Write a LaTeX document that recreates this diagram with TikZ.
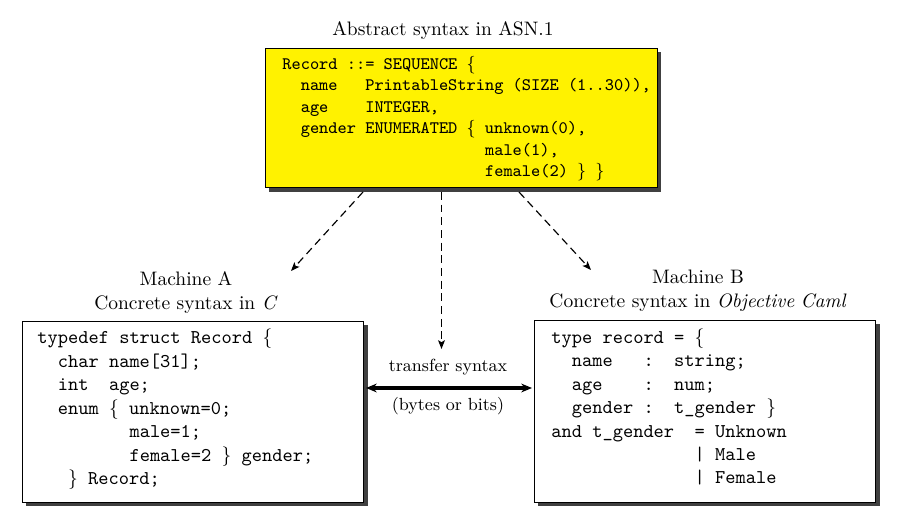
\documentclass[tikz,border=0pt]{standalone}
\usetikzlibrary{arrows.meta,shadows}
\newcommand{\ind}[1]{\hspace*{#1\dimexpr0.525em\relax}}
\newcommand{\ttsp}{\spaceskip=0.525em\relax\xspaceskip=0.525em\relax}
\begin{document}
\begin{tikzpicture}[x=0.5128pt, y=-0.5128pt,
  box/.style={draw, line width=0.6pt, rectangle, inner sep=0pt, anchor=north west,
    drop shadow={shadow xshift=2pt, shadow yshift=-2pt, fill=black!75, opacity=1}},
  code/.style={font=\ttfamily, text width=220pt, align=flush left, inner sep=0pt,
    anchor=base west, execute at begin node=\ttsp},
  lbl/.style={text width=220pt, align=center, inner sep=0pt, anchor=base},
  dasharrow/.style={dash pattern=on 4pt off 2.5pt, line width=0.6pt,
    -{Stealth[length=4.5pt,width=3.5pt,inset=1pt]}},
  dbl/.style={line width=1.6pt,
    {Stealth[length=5.5pt,width=4.5pt]}-{Stealth[length=5.5pt,width=4.5pt]}}]
\useasboundingbox (0,0) rectangle (897,520);

% boxes
\node[box, fill=yellow, minimum width=201pt, minimum height=71.3pt] (asn) at (265,48) {};
\node[box, fill=white, minimum width=174.9pt, minimum height=92.8pt] (ma) at (22,321) {};
\node[box, fill=white, minimum width=174.9pt, minimum height=93.3pt] (mb) at (534,320) {};

% code texts
\node[code, font=\small\ttfamily] (asntext) at (282,69.5) {Record ::= SEQUENCE $\{$\\
\ind{2}name~~~PrintableString (SIZE (1..30)),\\
\ind{2}age~~~~INTEGER,\\
\ind{2}gender ENUMERATED $\{$ unknown(0),\\
\ind{22}male(1),\\
\ind{22}female(2) $\}$ $\}$};

\node[code] (matext) at (37,344) {typedef struct Record $\{$\\
\ind{2}char name[31];\\
\ind{2}int~~age;\\
\ind{2}enum $\{$ unknown=0;\\
\ind{9}male=1;\\
\ind{9}female=2 $\}$ gender;\\
\ind{3}$\}$ Record;};

\node[code] (mbtext) at (551,343.5) {type record = $\{$\\
\ind{2}name~~~:~~string;\\
\ind{2}age~~~~:~~num;\\
\ind{2}gender :~~t\_gender $\}$\\
and t\_gender~~= Unknown\\
\ind{14}| Male\\
\ind{14}| Female};

% labels
\node[lbl] (title) at (443,36) {Abstract syntax in ASN.1};
\node[lbl] (lbla) at (186,286) {Machine A\\Concrete syntax in \textit{C}};
\node[lbl] (lblb) at (698,284) {Machine B\\Concrete syntax in \textit{Objective Caml}};
\node[lbl, font=\small] (ts) at (448,372) {transfer syntax};
\node[lbl, font=\small] (bb) at (448,411) {(bytes or bits)};

% connectors
\coordinate (s1) at (363,192);
\coordinate (e1) at (291,271);
\coordinate (s2) at (441.5,192);
\coordinate (e2) at (441.5,349);
\coordinate (s3) at (519,192);
\coordinate (e3) at (591,270);
\draw[dasharrow] (s1) -- (e1);
\draw[dasharrow] (s2) -- (e2);
\draw[dasharrow] (s3) -- (e3);

\coordinate (tl) at (366,388);
\coordinate (tr) at (532,388);
\draw[dbl] (tl) -- (tr);
\end{tikzpicture}
\end{document}
